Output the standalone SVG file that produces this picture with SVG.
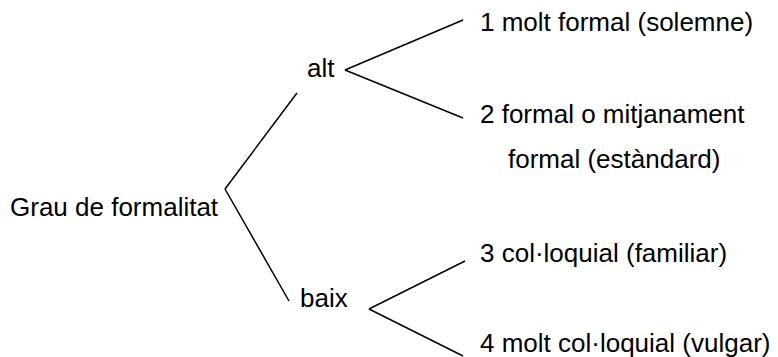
<svg xmlns="http://www.w3.org/2000/svg" width="778" height="357" viewBox="0 0 778 357">
<style>
text{font-family:"Liberation Sans",Arial,sans-serif;font-size:26px;fill:#000}
.c line{stroke:#000;stroke-width:1.5;fill:none}
</style>
<rect width="778" height="357" fill="#fff"/>
<g class="c" id="connectors">
<line x1="225" y1="189" x2="297" y2="93"/>
<line x1="225" y1="189" x2="289" y2="301"/>
<line x1="345" y1="70" x2="463" y2="20"/>
<line x1="345" y1="70" x2="463" y2="118"/>
<line x1="369" y1="309" x2="465" y2="261"/>
<line x1="369" y1="309" x2="463" y2="356"/>
</g>
<g id="root"><text x="10" y="216">Grau de formalitat</text></g>
<g id="alt"><text x="307" y="77">alt</text></g>
<g id="baix"><text x="300" y="307">baix</text></g>
<g id="n1"><text x="480" y="31">1 molt formal (solemne)</text></g>
<g id="n2"><text x="480" y="123">2 formal o mitjanament</text><text x="508" y="168">formal (estàndard)</text></g>
<g id="n3"><text x="480" y="262">3 col·loquial (familiar)</text></g>
<g id="n4"><text x="480" y="352">4 molt col·loquial (vulgar)</text></g>
</svg>
